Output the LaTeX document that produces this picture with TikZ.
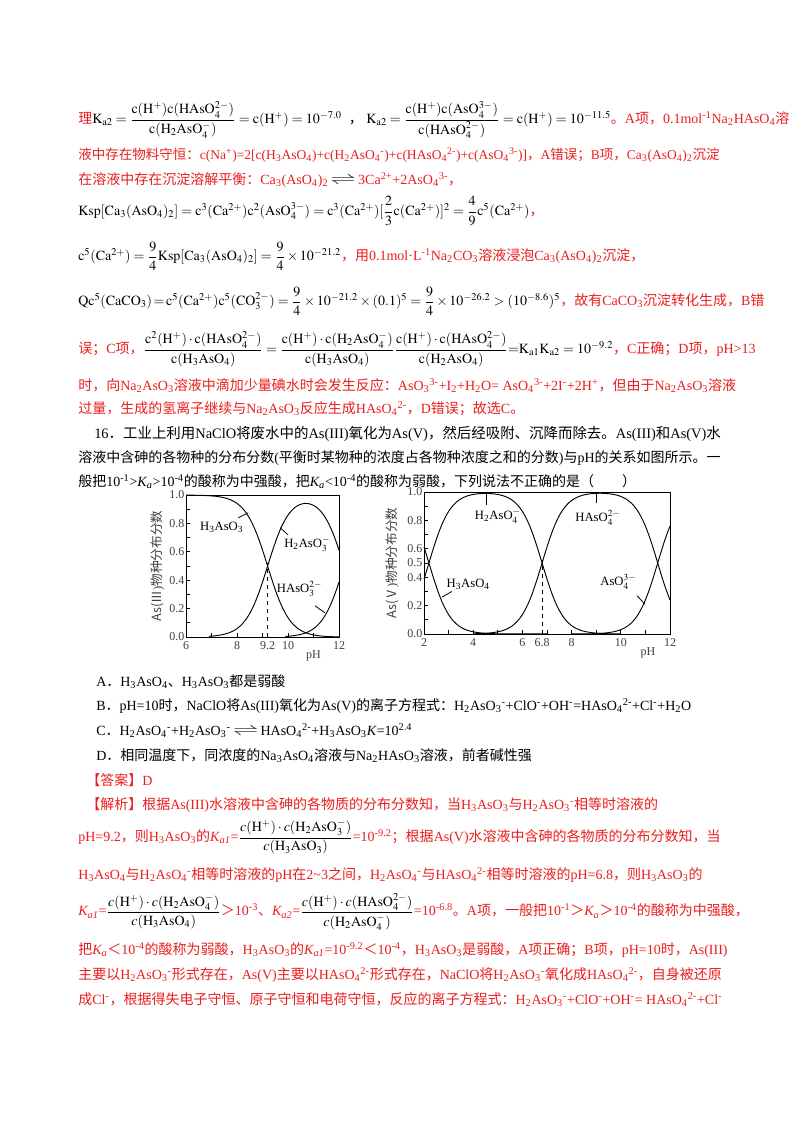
\documentclass[tikz,border=0pt]{standalone}
\usepackage{amsmath}
\usepackage{mathptmx}
\usepackage[no-math]{fontspec}
\usepackage{graphicx}
\setmainfont{Liberation Serif}
\newfontfamily\cjk{Noto Sans CJK SC}
\newcommand\latinf{\rmfamily}
\XeTeXinterchartokenstate=1
\newXeTeXintercharclass\cjkcls
\newcount\cc
\def\setrange#1#2{\cc=#1\relax\loop\XeTeXcharclass\cc=\cjkcls\ifnum\cc<#2\advance\cc by 1\repeat}
\setrange{"3000}{"303F}\setrange{"4E00}{"9FFF}\setrange{"FF00}{"FFEF}\setrange{"2150}{"218F}
\XeTeXinterchartoks 0 \cjkcls = {\cjk}
\XeTeXinterchartoks 4095 \cjkcls = {\cjk}
\XeTeXinterchartoks \cjkcls 0 = {\latinf}
\XeTeXinterchartoks \cjkcls 4095 = {\latinf}
\definecolor{myred}{RGB}{235,30,30}
\newcommand\R[1]{\textcolor{myred}{#1}}
\newcommand\dn[1]{\textsubscript{#1}}
\newcommand\up[1]{\textsuperscript{#1}}
\newcommand\eqarrow{\raisebox{0.1ex}{\scalebox{1.8}[1]{$\rightleftharpoons$}}}
\pgfmathdeclarefunction{pp}{1}{\pgfmathparse{10^(max(min(#1,3),-6))}}
\pgfmathdeclarefunction{aa}{1}{\pgfmathparse{1/(1+pp(#1-9.2)+pp(2*#1-21.4))}}
\pgfmathdeclarefunction{ab}{1}{\pgfmathparse{1/(pp(9.2-#1)+1+pp(#1-12.2))}}
\pgfmathdeclarefunction{ac}{1}{\pgfmathparse{1/(pp(21.4-2*#1)+pp(12.2-#1)+1)}}
\pgfmathdeclarefunction{ba}{1}{\pgfmathparse{1/(1+pp(#1-2.2)+pp(2*#1-9)+pp(3*#1-20.5))}}
\pgfmathdeclarefunction{bb}{1}{\pgfmathparse{1/(pp(2.2-#1)+1+pp(#1-6.8)+pp(2*#1-18.3))}}
\pgfmathdeclarefunction{bc}{1}{\pgfmathparse{1/(pp(9-2*#1)+pp(6.8-#1)+1+pp(#1-11.5))}}
\pgfmathdeclarefunction{bd}{1}{\pgfmathparse{1/(pp(20.5-3*#1)+pp(18.3-2*#1)+pp(11.5-#1)+1)}}
\begin{document}
\begin{tikzpicture}[x=0.75pt,y=-0.75pt,
  tx/.style={anchor=west,inner sep=0pt,font=\fontsize{10.5}{12}\selectfont},
  lab/.style={inner sep=0.5pt,font=\fontsize{9.5}{11}\selectfont},
  tk/.style={inner sep=1pt,font=\fontsize{9}{10}\selectfont,text=black!75},
  curve/.style={line width=0.7pt},
  ax/.style={line width=0.6pt}]
\useasboundingbox[fill=white] (0,0) rectangle (800,1132);

\node[tx] (l1) at (78,120) {\R{理}$\mathrm{K_{a2}=\dfrac{c(H^{+})c(HAsO_4^{2-})}{c(H_2AsO_4^{-})}=c(H^{+})=10^{-7.0}}$\ \ ，\ $\mathrm{K_{a2}=\dfrac{c(H^{+})c(AsO_4^{3-})}{c(HAsO_4^{2-})}=c(H^{+})=10^{-11.5}}$\R{。A项，0.1mol\up{-1}Na\dn{2}HAsO\dn{4}溶}};
\node[tx,text=myred] (l2) at (78,155) {\resizebox{481pt}{!}{液中存在物料守恒：c(Na\up{+})=2[c(H\dn{3}AsO\dn{4})+c(H\dn{2}AsO\dn{4}\up{-})+c(HAsO\dn{4}\up{2-})+c(AsO\dn{4}\up{3-})]，A错误；B项，Ca\dn{3}(AsO\dn{4})\dn{2}沉淀}};
\node[tx,text=myred] (l3) at (78,180) {在溶液中存在沉淀溶解平衡：Ca\dn{3}(AsO\dn{4})\dn{2}\,\textcolor{black}{\eqarrow}\,3Ca\up{2+}+2AsO\dn{4}\up{3-}，};
\node[tx] (l4) at (78,211) {$\mathrm{Ksp[Ca_3(AsO_4)_2]=c^3(Ca^{2+})c^2(AsO_4^{3-})=c^3(Ca^{2+})[\dfrac{2}{3}c(Ca^{2+})]^2=\dfrac{4}{9}c^5(Ca^{2+})}$\R{，}};
\node[tx] (l5) at (78,256) {$\mathrm{c^5(Ca^{2+})=\dfrac{9}{4}Ksp[Ca_3(AsO_4)_2]=\dfrac{9}{4}\times10^{-21.2}}$\R{，用0.1mol·L\up{-1}Na\dn{2}CO\dn{3}溶液浸泡Ca\dn{3}(AsO\dn{4})\dn{2}沉淀，}};
\node[tx] (l6) at (78,301) {$\mathrm{Qc^5(CaCO_3)\!=\!c^5(Ca^{2+})c^5(CO_3^{2-})=\dfrac{9}{4}\times10^{-21.2}\times(0.1)^5=\dfrac{9}{4}\times10^{-26.2}>(10^{-8.6})^5}$\R{，故有CaCO\dn{3}沉淀转化生成，B错}};
\node[tx] (l7) at (78,349) {\R{误；C项，}$\mathrm{\dfrac{c^2(H^{+})\cdot c(HAsO_4^{2-})}{c(H_3AsO_4)}=\dfrac{c(H^{+})\cdot c(H_2AsO_4^{-})}{c(H_3AsO_4)}\dfrac{c(H^{+})\cdot c(HAsO_4^{2-})}{c(H_2AsO_4)}{=}K_{a1}K_{a2}=10^{-9.2}}$\R{，C正确；D项，pH>13}};
\node[tx,text=myred] (l8) at (78,386) {时，向Na\dn{2}AsO\dn{3}溶液中滴加少量碘水时会发生反应：AsO\dn{3}\up{3-}+I\dn{2}+H\dn{2}O= AsO\dn{4}\up{3-}+2I\up{-}+2H\up{+}，但由于Na\dn{2}AsO\dn{3}溶液};
\node[tx,text=myred] (l9) at (78,409) {过量，生成的氢离子继续与Na\dn{2}AsO\dn{3}反应生成HAsO\dn{4}\up{2-}，D错误；故选C。};
\node[tx] (l10) at (94,434) {\resizebox{470pt}{!}{16．工业上利用NaClO将废水中的As(III)氧化为As(V)，然后经吸附、沉降而除去。As(III)和As(V)水}};
\node[tx] (l11) at (78,458) {溶液中含砷的各物种的分布分数(平衡时某物种的浓度占各物种浓度之和的分数)与pH的关系如图所示。一};
\node[tx] (l12) at (78,482) {般把10\up{-1}>\textit{K\dn{a}}>10\up{-4}的酸称为中强酸，把\textit{K\dn{a}}<10\up{-4}的酸称为弱酸，下列说法不正确的是（　　）};

% left plot
\begin{scope}[shift={(186,637)},x=19.125pt,y=106.5pt]
\draw[ax] (0,0) rectangle (6,1);
\foreach \i in {1,...,9} \draw[ax] (0,\i/10) -- ++(3pt,0);
\foreach \i in {1,...,5} \draw[ax] (\i,0) -- ++(0,3pt);
\foreach \v in {0.0,0.2,0.4,0.6,0.8,1.0} \node[tk,anchor=east] (ly\v) at (0,\v) {\v};
\foreach \v/\t in {0/6,2/8,3.2/9.2,4/10,6/12} \node[tk,anchor=north] (lx\t) at (\v,-0.02) {\t};
\node[tk] (lph) at (5.0,-0.13) {pH};
\node[tk,rotate=90,font=\cjk\fontsize{9.5}{10}\selectfont] (lyt) at (-1.1,0.5) {As(Ⅲ)物种分布分数};
\draw[curve] plot[domain=6:12,samples=90,smooth] ({\x-6},{aa(\x)});
\draw[curve] plot[domain=6.9:12,samples=90,smooth] ({\x-6},{ab(\x)});
\draw[curve] plot[domain=9.9:12,samples=60,smooth] ({\x-6},{ac(\x)});
\draw[dashed,ax] (3.2,0) -- (3.2,0.52);
\node[lab] (h3as3) at (1.4,0.77) {H\dn{3}AsO\dn{3}};
\draw[ax] (2.05,0.84) -- (2.43,0.874);
\node[lab] (h2as3) at (4.75,0.65) {H\dn{2}AsO$_3^-$};
\draw[ax] (3.69,0.77) -- (4.0,0.72);
\node[lab] (has3) at (4.45,0.34) {HAsO$_3^{2-}$};
\draw[ax] (5.06,0.22) -- (5.45,0.17);
\end{scope}

% right plot
\begin{scope}[shift={(424,634)},x=18.45pt,y=106.5pt]
\draw[ax] (0,0) rectangle (10,1);
\foreach \i in {1,...,9} \draw[ax] (0,\i/10) -- ++(3pt,0);
\foreach \i in {1,...,9} \draw[ax] (\i,0) -- ++(0,3pt);
\foreach \v in {0.0,0.2,0.4,0.5,0.6,0.8,1.0} \node[tk,anchor=east] (ry\v) at (0,\v) {\v};
\foreach \v/\t in {0/2,2/4,4/6,4.8/6.8,6/8,8/10,10/12} \node[tk,anchor=north] (rx\t) at (\v,-0.02) {\t};
\node[tk] (rph) at (9.1,-0.13) {pH};
\node[tk,rotate=90,font=\cjk\fontsize{9.5}{10}\selectfont] (ryt) at (-1.3,0.5) {As(Ⅴ)物种分布分数};
\draw[curve] plot[domain=2:7,samples=90,smooth] ({\x-2},{ba(\x)});
\draw[curve] plot[domain=2:10,samples=120,smooth] ({\x-2},{bb(\x)});
\draw[curve] plot[domain=4:12,samples=120,smooth] ({\x-2},{bc(\x)});
\draw[curve] plot[domain=8:12,samples=80,smooth] ({\x-2},{bd(\x)});
\draw[dashed,ax] (4.8,0) -- (4.8,0.52);
\node[lab] (h2as4) at (3.0,0.83) {H\dn{2}AsO$_4^-$};
\draw[ax] (2.52,1) -- (2.52,0.91);
\node[lab] (has4) at (7.07,0.82) {HAsO$_4^{2-}$};
\draw[ax] (6.99,1) -- (6.99,0.92);
\node[lab] (h3as4) at (1.8,0.35) {H\dn{3}AsO\dn{4}};
\draw[ax] (0.73,0.26) -- (1.14,0.30);
\node[lab] (as4) at (7.9,0.37) {AsO$_4^{3-}$};
\draw[ax] (8.66,0.27) -- (8.98,0.21);
\end{scope}

\node[tx] (oa) at (96,682) {A．H\dn{3}AsO\dn{4}、H\dn{3}AsO\dn{3}都是弱酸};
\node[tx] (ob) at (96,706) {B．pH=10时，NaClO将As(III)氧化为As(V)的离子方程式：H\dn{2}AsO\dn{3}\up{-}+ClO\up{-}+OH\up{-}=HAsO\dn{4}\up{2-}+Cl\up{-}+H\dn{2}O};
\node[tx] (oc) at (96,731) {C．H\dn{2}AsO\dn{4}\up{-}+H\dn{2}AsO\dn{3}\up{-}\,\eqarrow\,HAsO\dn{4}\up{2-}+H\dn{3}AsO\dn{3}\textit{K}=10\up{2.4}};
\node[tx] (od) at (96,756) {D．相同温度下，同浓度的Na\dn{3}AsO\dn{4}溶液与Na\dn{2}HAsO\dn{3}溶液，前者碱性强};
\node[tx,text=myred] (ans) at (86,780) {【答案】D};
\node[tx,text=myred] (j1) at (86,805) {【解析】根据As(III)水溶液中含砷的各物质的分布分数知，当H\dn{3}AsO\dn{3}与H\dn{2}AsO\dn{3}\up{-}相等时溶液的};
\node[tx] (j2) at (78,837) {\R{pH=9.2，则H\dn{3}AsO\dn{3}的\textit{K\dn{a1}}=}$\dfrac{c(\mathrm{H^{+}})\cdot c(\mathrm{H_2AsO_3^{-}})}{c(\mathrm{H_3AsO_3})}$\R{=10\up{-9.2}；根据As(V)水溶液中含砷的各物质的分布分数知，当}};
\node[tx,text=myred] (j3) at (78,875) {H\dn{3}AsO\dn{4}与H\dn{2}AsO\dn{4}\up{-}相等时溶液的pH在2\textasciitilde3之间，H\dn{2}AsO\dn{4}\up{-}与HAsO\dn{4}\up{2-}相等时溶液的pH=6.8，则H\dn{3}AsO\dn{3}的};
\node[tx] (j4) at (78,912) {\R{\textit{K\dn{a1}}=}$\dfrac{c(\mathrm{H^{+}})\cdot c(\mathrm{H_2AsO_4^{-}})}{c(\mathrm{H_3AsO_4})}$\R{＞10\up{-3}、\textit{K\dn{a2}}=}$\dfrac{c(\mathrm{H^{+}})\cdot c(\mathrm{HAsO_4^{2-}})}{c(\mathrm{H_2AsO_4^{-}})}$\R{=10\up{-6.8}。A项，一般把10\up{-1}＞\textit{K\dn{a}}＞10\up{-4}的酸称为中强酸，}};
\node[tx,text=myred] (j5) at (78,950) {把\textit{K\dn{a}}＜10\up{-4}的酸称为弱酸，H\dn{3}AsO\dn{3}的\textit{K\dn{a1}}=10\up{-9.2}＜10\up{-4}，H\dn{3}AsO\dn{3}是弱酸，A项正确；B项，pH=10时，As(III)};
\node[tx,text=myred] (j6) at (78,975) {主要以H\dn{2}AsO\dn{3}\up{-}形式存在，As(V)主要以HAsO\dn{4}\up{2-}形式存在，NaClO将H\dn{2}AsO\dn{3}\up{-}氧化成HAsO\dn{4}\up{2-}，自身被还原};
\node[tx,text=myred] (j7) at (78,1000) {成Cl\up{-}，根据得失电子守恒、原子守恒和电荷守恒，反应的离子方程式：H\dn{2}AsO\dn{3}\up{-}+ClO\up{-}+OH\up{-}= HAsO\dn{4}\up{2-}+Cl\up{-}};
\end{tikzpicture}
\end{document}
